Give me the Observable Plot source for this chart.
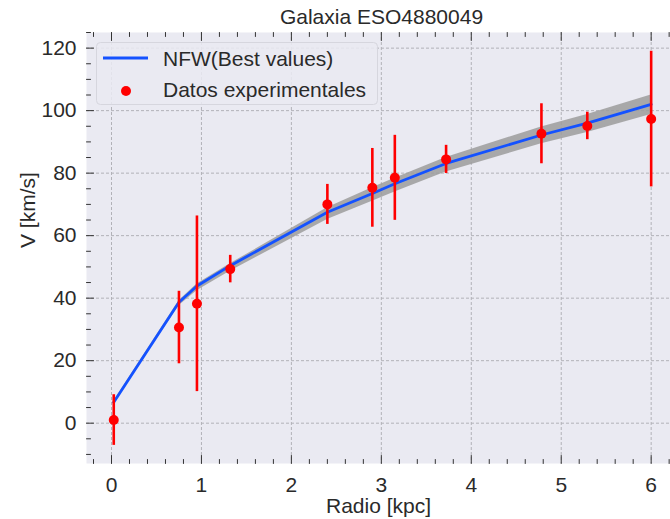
<!DOCTYPE html>
<html>
<head>
<meta charset="utf-8">
<script src="https://cdn.jsdelivr.net/npm/d3@7"></script>
<script src="https://cdn.jsdelivr.net/npm/@observablehq/plot@0.6"></script>
<style>
  html, body { margin: 0; padding: 0; background: #ffffff; }
  #chart svg { display: block; }
</style>
</head>
<body>
<div id="chart"></div>
<script>
// Rotation curve of ESO4880049: observed velocities with errors and the NFW fit
const radio = [0.025, 0.75, 0.95, 1.32, 2.40, 2.90, 3.15, 3.72, 4.78, 5.29, 6.00];   // kpc
const vObs  = [1.0, 30.6, 38.2, 49.3, 70.0, 75.3, 78.5, 84.4, 92.6, 95.1, 97.3];     // km/s
const vErr  = [8.1, 11.6, 28.1, 4.4, 6.4, 12.6, 13.6, 4.5, 9.6, 4.4, 21.7];          // km/s

// NFW best-fit curve and its uncertainty band, evaluated at the same radii
const vNFW   = [6.7, 38.7, 43.9, 50.4, 67.5, 73.5, 76.6, 83.1, 92.2, 96.0, 102.0];
const nfwLow = [6.2, 37.6, 42.4, 48.6, 65.2, 71.0, 74.0, 80.4, 89.4, 93.0, 98.8];
const nfwHigh= [7.0, 39.2, 44.5, 51.0, 68.9, 75.3, 78.4, 85.0, 94.8, 98.8, 105.0];

// Axis ticks
const xTicks = [0, 1, 2, 3, 4, 5, 6];
const yTicks = [0, 20, 40, 60, 80, 100, 120];
const xMinor = d3.range(-1, 32).filter(i => i % 5 !== 0).map(i => i / 5);
const yMinor = d3.range(-2, 26).filter(i => i % 4 !== 0).map(i => i * 5);

const titleText = "Galaxia ESO4880049";
const xLabel = "Radio [kpc]";
const yLabel = "V [km/s]";
const legendLabels = ["NFW(Best values)", "Datos experimentales"];

const observed = radio.map((r, i) => ({r, v: vObs[i], e: vErr[i]}));
const model = radio.map((r, i) => ({r, v: vNFW[i], lo: nfwLow[i], hi: nfwHigh[i]}));

const BG = "#eaeaf2";
const GRID = "#b2b2b8";
const TEXT = "#2a2a2a";
const TICK = "#333333";
const BLUE = "#1452ff";
const RED = "#ff0000";
const FONT = "'Liberation Sans', Arial, Helvetica, sans-serif";

// Short inward tick drawn as a vector shape
const tickShape = { draw(context, l) { context.moveTo(0, 0); context.lineTo(0, -l); } };
const ticks = (values, channel, frameAnchor, rotate, length) =>
  Plot.vector(values, {
    [channel]: d => d, frameAnchor, rotate, length,
    anchor: "start", shape: tickShape, stroke: TICK, strokeWidth: 1
  });

const chart = Plot.plot({
  width: 670,
  height: 519,
  marginLeft: 86,
  marginRight: 0,
  marginTop: 32,
  marginBottom: 56,
  x: {domain: [-0.278, 6.215]},
  y: {domain: [-12.9, 125]},
  style: {fontFamily: FONT, fontSize: "21px", color: TEXT, background: "#ffffff", overflow: "visible"},
  marks: [
    Plot.frame({fill: BG, stroke: null}),
    Plot.gridX(xTicks, {stroke: GRID, strokeOpacity: 1, strokeWidth: 1, strokeDasharray: "3,2"}),
    Plot.gridY(yTicks, {stroke: GRID, strokeOpacity: 1, strokeWidth: 1, strokeDasharray: "3,2"}),

    // NFW fit band and curve
    Plot.areaY(model, {x: "r", y1: "lo", y2: "hi", fill: "#9c9c9c", fillOpacity: 0.85}),
    Plot.line(model, {x: "r", y: "v", stroke: BLUE, strokeWidth: 2.8}),

    // Observed velocities with error bars
    Plot.ruleX(observed, {x: "r", y1: d => d.v - d.e, y2: d => d.v + d.e, stroke: RED, strokeWidth: 2.6}),
    Plot.dot(observed, {x: "r", y: "v", r: 5, fill: RED, stroke: null}),

    // Inward ticks on bottom, top and left edges
    ticks(xTicks, "x", "bottom", 0, 8),
    ticks(xMinor, "x", "bottom", 0, 4),
    ticks(xTicks, "x", "top", 180, 8),
    ticks(xMinor, "x", "top", 180, 4),
    ticks(yTicks, "y", "left", 90, 7),
    ticks(yMinor, "y", "left", 90, 4),

    // Tick labels
    Plot.axisX({ticks: xTicks, tickFormat: d3.format("d"), tickSize: 0, tickPadding: 14, label: null, fill: TEXT}),
    Plot.axisY({ticks: yTicks, tickFormat: d3.format("d"), tickSize: 0, tickPadding: 10, label: null, fill: TEXT}),

    // Title and axis labels
    Plot.text([titleText], {frameAnchor: "top", dx: 3, dy: -9, lineAnchor: "bottom", text: d => d, fill: TEXT, fontSize: 21}),
    Plot.text([xLabel], {frameAnchor: "bottom", dy: 43, lineAnchor: "middle", text: d => d, fill: TEXT, fontSize: 21}),
    Plot.text([yLabel], {frameAnchor: "left", dx: -58, rotate: -90, lineAnchor: "middle", text: d => d, fill: TEXT, fontSize: 21})
  ]
});

document.getElementById("chart").appendChild(chart);

// Legend box in the upper-left corner of the plot area
const svg = d3.select(chart.tagName.toLowerCase() === "svg" ? chart : chart.querySelector("svg"));
const legend = svg.append("g")
  .attr("font-family", FONT).attr("font-size", 21).attr("fill", TEXT)
  .attr("text-anchor", "start");
legend.append("rect")
  .attr("x", 96.5).attr("y", 42.5).attr("width", 281).attr("height", 62).attr("rx", 4)
  .attr("fill", BG).attr("fill-opacity", 0.85)
  .attr("stroke", "#d6d6de").attr("stroke-width", 1);
legend.append("line")
  .attr("x1", 103).attr("x2", 148).attr("y1", 58).attr("y2", 58)
  .attr("stroke", BLUE).attr("stroke-width", 2.8);
legend.append("circle")
  .attr("cx", 126).attr("cy", 91).attr("r", 5).attr("fill", RED);
legend.append("text").attr("x", 163).attr("y", 66).attr("text-anchor", "start").text(legendLabels[0]);
legend.append("text").attr("x", 163).attr("y", 97).attr("text-anchor", "start").text(legendLabels[1]);
</script>
</body>
</html>
